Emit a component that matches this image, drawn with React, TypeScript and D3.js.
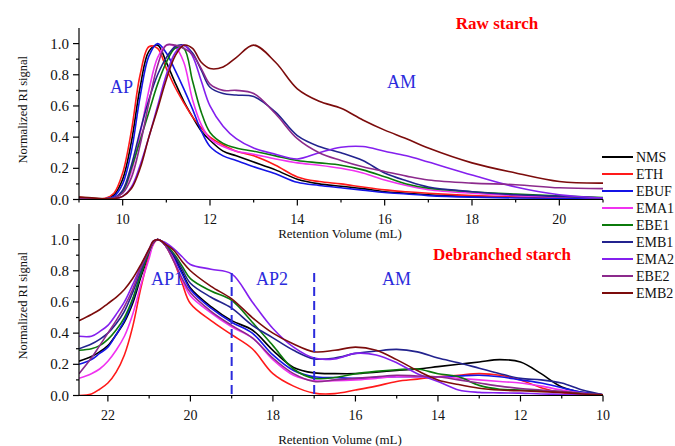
import React from 'react'
import * as d3 from 'd3'

const SAMPLES = ['NMS', 'ETH', 'EBUF', 'EMA1', 'EBE1', 'EMB1', 'EMA2', 'EBE2', 'EMB2']
const COLORS = ['#000000', '#ff1a1a', '#1414e6', '#f032f0', '#0b7a0b', '#23238e', '#8420ee', '#8c2a8c', '#7c0c0c']

// raw starch, retention volume (mL)
const RAW_X = [9, 9.6, 9.8, 10, 10.2, 10.4, 10.6, 10.8, 11, 11.2, 11.4, 11.6, 11.8, 12, 12.3, 12.6, 13, 13.5, 14, 14.5, 15, 15.5, 16, 16.5, 17, 18, 19, 20, 21]
const RAW_NMS = [0.005, 0.005, 0.03, 0.13, 0.37, 0.72, 0.95, 0.99, 0.88, 0.75, 0.63, 0.53, 0.44, 0.38, 0.31, 0.28, 0.24, 0.19, 0.13, 0.1, 0.085, 0.07, 0.05, 0.04, 0.03, 0.02, 0.015, 0.01, 0.005]
const RAW_ETH = [0.015, 0.008, 0.04, 0.17, 0.44, 0.8, 0.98, 0.97, 0.84, 0.72, 0.62, 0.53, 0.46, 0.4, 0.35, 0.31, 0.28, 0.22, 0.145, 0.115, 0.1, 0.08, 0.062, 0.05, 0.04, 0.025, 0.015, 0.01, 0.005]
const RAW_EBUF = [0.005, 0.005, 0.02, 0.1, 0.31, 0.66, 0.92, 1.0, 0.94, 0.83, 0.71, 0.58, 0.44, 0.34, 0.28, 0.25, 0.21, 0.165, 0.11, 0.09, 0.075, 0.06, 0.045, 0.035, 0.025, 0.015, 0.01, 0.008, 0.005]
const RAW_EMA1 = [0.005, 0.005, 0.01, 0.05, 0.18, 0.42, 0.7, 0.91, 0.99, 0.98, 0.88, 0.64, 0.48, 0.39, 0.34, 0.31, 0.29, 0.26, 0.235, 0.22, 0.2, 0.17, 0.125, 0.09, 0.063, 0.04, 0.025, 0.018, 0.01]
const RAW_EBE1 = [0.005, 0.005, 0.01, 0.05, 0.2, 0.38, 0.56, 0.74, 0.88, 0.97, 0.97, 0.76, 0.56, 0.43, 0.36, 0.33, 0.31, 0.28, 0.25, 0.235, 0.22, 0.19, 0.146, 0.1, 0.073, 0.05, 0.035, 0.023, 0.012]
const RAW_EMB1 = [0.005, 0.005, 0.01, 0.06, 0.22, 0.44, 0.64, 0.8, 0.91, 0.98, 0.99, 0.94, 0.83, 0.72, 0.68, 0.67, 0.66, 0.56, 0.41, 0.34, 0.3, 0.25, 0.17, 0.12, 0.08, 0.05, 0.03, 0.02, 0.01]
const RAW_EMA2 = [0.005, 0.005, 0.005, 0.02, 0.08, 0.22, 0.4, 0.6, 0.8, 0.94, 0.99, 0.92, 0.76, 0.6, 0.47, 0.39, 0.33, 0.29, 0.26, 0.3, 0.335, 0.34, 0.31, 0.28, 0.24, 0.157, 0.08, 0.03, 0.01]
const RAW_EBE2 = [0.005, 0.005, 0.01, 0.04, 0.14, 0.35, 0.62, 0.86, 0.99, 0.99, 0.97, 0.93, 0.84, 0.74, 0.7, 0.7, 0.68, 0.55, 0.39, 0.3, 0.25, 0.21, 0.18, 0.15, 0.125, 0.105, 0.095, 0.075, 0.07]
const RAW_EMB2 = [0.015, 0.005, 0.005, 0.02, 0.07, 0.2, 0.4, 0.58, 0.77, 0.92, 0.99, 0.97, 0.88, 0.84, 0.85, 0.91, 0.99, 0.88, 0.71, 0.63, 0.585, 0.51, 0.445, 0.39, 0.33, 0.235, 0.17, 0.115, 0.105]

// debranched starch, x runs backwards
const DEB_X = [22.7, 22.4, 22.2, 22, 21.8, 21.6, 21.4, 21.2, 21, 20.9, 20.8, 20.7, 20.6, 20.4, 20.2, 20, 19.5, 19, 18.5, 18, 17.5, 17, 16.5, 16, 15.5, 15, 14.5, 14, 13.5, 13, 12.5, 12, 11.5, 11, 10.5, 10]
const DEB_NMS = [0.22, 0.25, 0.28, 0.32, 0.39, 0.47, 0.59, 0.76, 0.91, 0.98, 1.0, 0.99, 0.96, 0.89, 0.79, 0.69, 0.57, 0.48, 0.42, 0.29, 0.18, 0.145, 0.14, 0.14, 0.15, 0.16, 0.17, 0.185, 0.2, 0.215, 0.23, 0.215, 0.14, 0.055, 0.02, 0.005]
const DEB_ETH = [0.0, 0.01, 0.04, 0.08, 0.15, 0.26, 0.44, 0.69, 0.9, 0.97, 1.0, 0.99, 0.96, 0.86, 0.72, 0.59, 0.48, 0.39, 0.3, 0.14, 0.06, 0.015, 0.012, 0.035, 0.06, 0.09, 0.105, 0.12, 0.13, 0.14, 0.13, 0.1, 0.05, 0.018, 0.008, 0.005]
const DEB_EBUF = [0.2, 0.23, 0.27, 0.31, 0.39, 0.48, 0.61, 0.78, 0.92, 0.98, 1.0, 0.99, 0.96, 0.88, 0.78, 0.68, 0.56, 0.47, 0.4, 0.26, 0.16, 0.12, 0.115, 0.11, 0.115, 0.12, 0.12, 0.12, 0.125, 0.13, 0.12, 0.1, 0.08, 0.05, 0.02, 0.005]
const DEB_EMA1 = [0.11, 0.14, 0.17, 0.22, 0.29, 0.38, 0.52, 0.71, 0.88, 0.97, 1.0, 0.99, 0.96, 0.87, 0.74, 0.64, 0.53, 0.44, 0.37, 0.23, 0.13, 0.095, 0.095, 0.1, 0.11, 0.12, 0.12, 0.12, 0.11, 0.1, 0.09, 0.08, 0.06, 0.035, 0.015, 0.005]
const DEB_EBE1 = [0.29, 0.3, 0.32, 0.36, 0.42, 0.5, 0.62, 0.78, 0.92, 0.98, 1.0, 0.99, 0.97, 0.91, 0.83, 0.75, 0.67, 0.61, 0.47, 0.32, 0.17, 0.11, 0.115, 0.14, 0.155, 0.165, 0.17, 0.14, 0.12, 0.065, 0.04, 0.035, 0.03, 0.025, 0.012, 0.005]
const DEB_EMB1 = [0.3, 0.33, 0.36, 0.4, 0.46, 0.54, 0.66, 0.8, 0.93, 0.98, 1.0, 0.99, 0.96, 0.9, 0.81, 0.72, 0.63, 0.56, 0.45, 0.37, 0.29, 0.235, 0.24, 0.27, 0.285, 0.296, 0.28, 0.24, 0.21, 0.175, 0.14, 0.11, 0.1, 0.08, 0.035, 0.005]
const DEB_EMA2 = [0.38, 0.38, 0.41, 0.45, 0.52, 0.6, 0.71, 0.83, 0.94, 0.99, 1.0, 0.99, 0.98, 0.94, 0.89, 0.84, 0.81, 0.78, 0.6, 0.43, 0.31, 0.24, 0.235, 0.27, 0.26, 0.21, 0.14, 0.09, 0.035, 0.02, 0.017, 0.015, 0.01, 0.008, 0.005, 0.005]
const DEB_EBE2 = [0.14, 0.24, 0.32, 0.4, 0.48, 0.57, 0.68, 0.82, 0.93, 0.98, 1.0, 0.99, 0.96, 0.86, 0.75, 0.66, 0.54, 0.45, 0.37, 0.24, 0.14, 0.09, 0.1, 0.11, 0.12, 0.13, 0.125, 0.12, 0.1, 0.08, 0.06, 0.045, 0.035, 0.025, 0.012, 0.005]
const DEB_EMB2 = [0.48, 0.52, 0.55, 0.59, 0.63, 0.68, 0.75, 0.84, 0.94, 0.99, 1.0, 0.99, 0.97, 0.93, 0.86, 0.8, 0.7, 0.62, 0.5, 0.4, 0.33, 0.28, 0.29, 0.31, 0.29, 0.23, 0.16, 0.1, 0.07, 0.047, 0.035, 0.03, 0.025, 0.02, 0.01, 0.005]

const RAW_SERIES = [RAW_NMS, RAW_ETH, RAW_EBUF, RAW_EMA1, RAW_EBE1, RAW_EMB1, RAW_EMA2, RAW_EBE2, RAW_EMB2]
const DEB_SERIES = [DEB_NMS, DEB_ETH, DEB_EBUF, DEB_EMA1, DEB_EBE1, DEB_EMB1, DEB_EMA2, DEB_EBE2, DEB_EMB2]

const Y_TICKS = [0, 0.2, 0.4, 0.6, 0.8, 1.0]
const Y_MINOR = [0.1, 0.3, 0.5, 0.7, 0.9]
const RAW_TICKS = [10, 12, 14, 16, 18, 20]
const RAW_MINOR = [9, 11, 13, 15, 17, 19, 21]
const DEB_TICKS = [22, 20, 18, 16, 14, 12, 10]
const DEB_MINOR = [21, 19, 17, 15, 13, 11]
const DEB_DIVIDERS = [19, 17]

const SERIF = "'Liberation Serif', 'Times New Roman', serif"
const BLUE = '#2b2bdc'
const X0 = 79
const X1 = 603

function Panel({ xDomain, top, bottom, xs, series, ticks, minor, id, titleGap }) {
	const x = d3.scaleLinear().domain(xDomain).range([X0, X1])
	const y = d3.scaleLinear().domain([0, 1.1]).range([bottom, top])
	const line = d3
		.line()
		.x((d) => x(d[0]))
		.y((d) => y(d[1]))
		.curve(d3.curveCatmullRom.alpha(0.5))

	return (
		<g>
			<clipPath id={id}>
				<rect x={X0} y={top - 5} width={X1 - X0} height={bottom - top + 5} />
			</clipPath>
			<g clipPath={`url(#${id})`} fill="none" strokeWidth={1.6}>
				{series.map((vals, i) => (
					<path key={SAMPLES[i]} d={line(xs.map((v, j) => [v, vals[j]]))} stroke={COLORS[i]} />
				))}
			</g>
			<g stroke="#000" strokeWidth={1.2}>
				<line x1={X0} x2={X0} y1={y(1.1)} y2={bottom} />
				<line x1={X0} x2={X1} y1={bottom} y2={bottom} />
				{Y_TICKS.map((t) => (
					<line key={t} x1={X0 - 6} x2={X0} y1={y(t)} y2={y(t)} />
				))}
				{Y_MINOR.map((t) => (
					<line key={t} x1={X0 - 3} x2={X0} y1={y(t)} y2={y(t)} />
				))}
				{ticks.map((t) => (
					<line key={t} x1={x(t)} x2={x(t)} y1={bottom} y2={bottom + 6} />
				))}
				{minor.map((t) => (
					<line key={t} x1={x(t)} x2={x(t)} y1={bottom} y2={bottom + 3} />
				))}
			</g>
			<g fontFamily={SERIF} fontSize={15} fill="#111">
				{Y_TICKS.map((t) => (
					<text key={t} x={X0 - 10} y={y(t) + 5} textAnchor="end">
						{t.toFixed(1)}
					</text>
				))}
			</g>
			<g fontFamily={SERIF} fontSize={14} fill="#111">
				{ticks.map((t) => (
					<text key={t} x={x(t)} y={bottom + 24} textAnchor="middle">
						{t}
					</text>
				))}
			</g>
			<text x={340} y={bottom + titleGap} textAnchor="middle" fontFamily={SERIF} fontSize={13} fill="#111">
				Retention Volume (mL)
			</text>
			<text
				transform={`translate(27, ${(top + bottom) / 2 - 4}) rotate(-90)`}
				textAnchor="middle"
				fontFamily={SERIF}
				fontSize={12.5}
				fill="#111"
			>
				Normalized RI signal
			</text>
		</g>
	)
}

export default function App() {
	const debX = d3.scaleLinear().domain([22.7, 10]).range([X0, X1])
	const debY = d3.scaleLinear().domain([0, 1.1]).range([395.5, 224])

	return (
		<svg
			width={675}
			height={446}
			viewBox="0 0 675 446"
			style={{ position: 'absolute', left: 0, top: 0, background: '#fff' }}
		>
			<Panel id="raw" xDomain={[9, 21]} top={28} bottom={199.5} xs={RAW_X} series={RAW_SERIES} ticks={RAW_TICKS} minor={RAW_MINOR} titleGap={38} />
			<Panel id="deb" xDomain={[22.7, 10]} top={224} bottom={395.5} xs={DEB_X} series={DEB_SERIES} ticks={DEB_TICKS} minor={DEB_MINOR} titleGap={48} />

			{DEB_DIVIDERS.map((v) => (
				<line key={v} x1={debX(v)} x2={debX(v)} y1={273} y2={debY(0)} stroke={BLUE} strokeWidth={2} strokeDasharray="9,5" />
			))}

			<g fontFamily={SERIF} fill="#ff0000" fontWeight="bold" fontSize={17} textAnchor="middle">
				<text x={497} y={29}>Raw starch</text>
				<text x={502} y={260}>Debranched starch</text>
			</g>

			<g fontFamily={SERIF} fill={BLUE} fontSize={18}>
				<text x={110} y={93}>AP</text>
				<text x={387} y={88}>AM</text>
				<text x={151} y={285}>AP1</text>
				<text x={256} y={285}>AP2</text>
				<text x={382} y={285}>AM</text>
			</g>

			<g fontFamily={SERIF} fontSize={14} fill="#111">
				{SAMPLES.map((s, i) => (
					<g key={s} transform={`translate(0, ${157 + i * 17})`}>
						<line x1={602} x2={633} y1={0} y2={0} stroke={COLORS[i]} strokeWidth={2} />
						<text x={636} y={5}>
							{s}
						</text>
					</g>
				))}
			</g>
		</svg>
	)
}
